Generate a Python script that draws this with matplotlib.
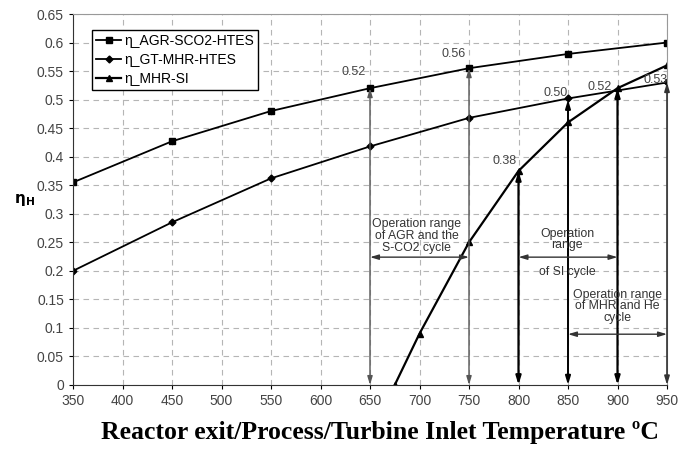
import matplotlib.pyplot as plt

temps = [350, 450, 550, 650, 750, 850, 950]
agr_sco2 = [0.355, 0.427, 0.480, 0.520, 0.555, 0.580, 0.600]
gt_mhr = [0.200, 0.285, 0.362, 0.418, 0.468, 0.502, 0.530]
si_temps = [675, 700, 750, 800, 850, 900, 950]
mhr_si = [0.0, 0.09, 0.25, 0.375, 0.46, 0.52, 0.56]

# vertical markers: temperature, top value, colour, width
vlines = [(650, 0.52, '#555555', 1.0), (750, 0.555, '#555555', 1.0),
          (800, 0.375, 'black', 1.6), (850, 0.50, 'black', 1.4),
          (900, 0.52, 'black', 1.6), (950, 0.53, '#333333', 1.2)]
value_labels = [(633, 0.548, '0.52'), (734, 0.580, '0.56'), (786, 0.392, '0.38'),
                (838, 0.511, '0.50'), (882, 0.522, '0.52'), (938, 0.534, '0.53')]

plt.rcParams['font.family'] = 'Liberation Sans'
fig = plt.figure(figsize=(6.78, 4.49), dpi=100)
ax = fig.add_axes([73 / 678, 1 - 385 / 449, 594 / 678, 371 / 449])

for x, top, c, lw in vlines:
    ax.annotate('', xy=(x, top), xytext=(x, 0),
                arrowprops=dict(arrowstyle='<|-|>,head_length=0.5,head_width=0.15',
                                color=c, lw=lw, shrinkA=0, shrinkB=0))

ax.plot(temps, agr_sco2, color='black', lw=1.3, marker='s', ms=5, label='η_AGR-SCO2-HTES')
ax.plot(temps, gt_mhr, color='black', lw=1.3, marker='D', ms=3.5, label='η_GT-MHR-HTES')
ax.plot(si_temps, mhr_si, color='black', lw=1.6, marker='^', ms=5, label='η_MHR-SI')

for x, y, s in value_labels:
    ax.text(x, y, s, fontsize=9, color='#444444', ha='center', va='center')

arr = dict(arrowstyle='<|-|>,head_length=0.5,head_width=0.15', color='#333333', lw=1.0,
           shrinkA=0, shrinkB=0)
ax.annotate('', xy=(650, 0.224), xytext=(750, 0.224), arrowprops=arr)
ax.annotate('', xy=(800, 0.224), xytext=(900, 0.224), arrowprops=arr)
ax.annotate('', xy=(850, 0.089), xytext=(950, 0.089), arrowprops=arr)
ax.text(697, 0.261, 'Operation range\nof AGR and the\nS-CO2 cycle', fontsize=8.8,
        color='#333333', ha='center', va='center', linespacing=0.95)
ax.text(849, 0.255, 'Operation\nrange', fontsize=8.8, color='#333333',
        ha='center', va='center', linespacing=0.95)
ax.text(849, 0.198, 'of SI cycle', fontsize=8.8, color='#333333', ha='center', va='center')
ax.text(900, 0.138, 'Operation range\nof MHR and He\ncycle', fontsize=8.8,
        color='#333333', ha='center', va='center', linespacing=0.95)

ax.set_xlim(350, 950)
ax.set_ylim(0, 0.65)
ax.set_xticks(range(350, 951, 50))
ax.set_yticks([i * 0.05 for i in range(14)])
ax.set_yticklabels(['0', '0.05', '0.1', '0.15', '0.2', '0.25', '0.3', '0.35', '0.4',
                    '0.45', '0.5', '0.55', '0.6', '0.65'])
ax.tick_params(labelsize=10, labelcolor='#444444', direction='out', length=3)
ax.grid(True, ls=(0, (5, 4)), color='#b5b5b5', lw=0.8)
ax.set_axisbelow(True)
for s in ['top', 'right']:
    ax.spines[s].set_color('#999999')
ax.spines['left'].set_color('#333333')
ax.spines['bottom'].set_color('#333333')

leg = ax.legend(loc='upper left', bbox_to_anchor=(0.032, 0.957), fontsize=10,
                frameon=True, fancybox=False, edgecolor='black', borderpad=0.3,
                borderaxespad=0, labelspacing=0.35, handlelength=1.8, handletextpad=0.2)
leg.get_frame().set_linewidth(1.0)
leg.get_frame().set_facecolor('white')
leg.get_frame().set_alpha(1)

fig.text(24 / 678, 1 - 200 / 449, r'$\mathbf{\eta_H}$', fontsize=11, ha='center', va='center')
fig.text(380 / 678, 1 - 432 / 449, 'Reactor exit/Process/Turbine Inlet Temperature ºC',
         family='Liberation Serif', fontweight='bold', fontsize=18.5, ha='center', va='center')

plt.savefig('out.png')
